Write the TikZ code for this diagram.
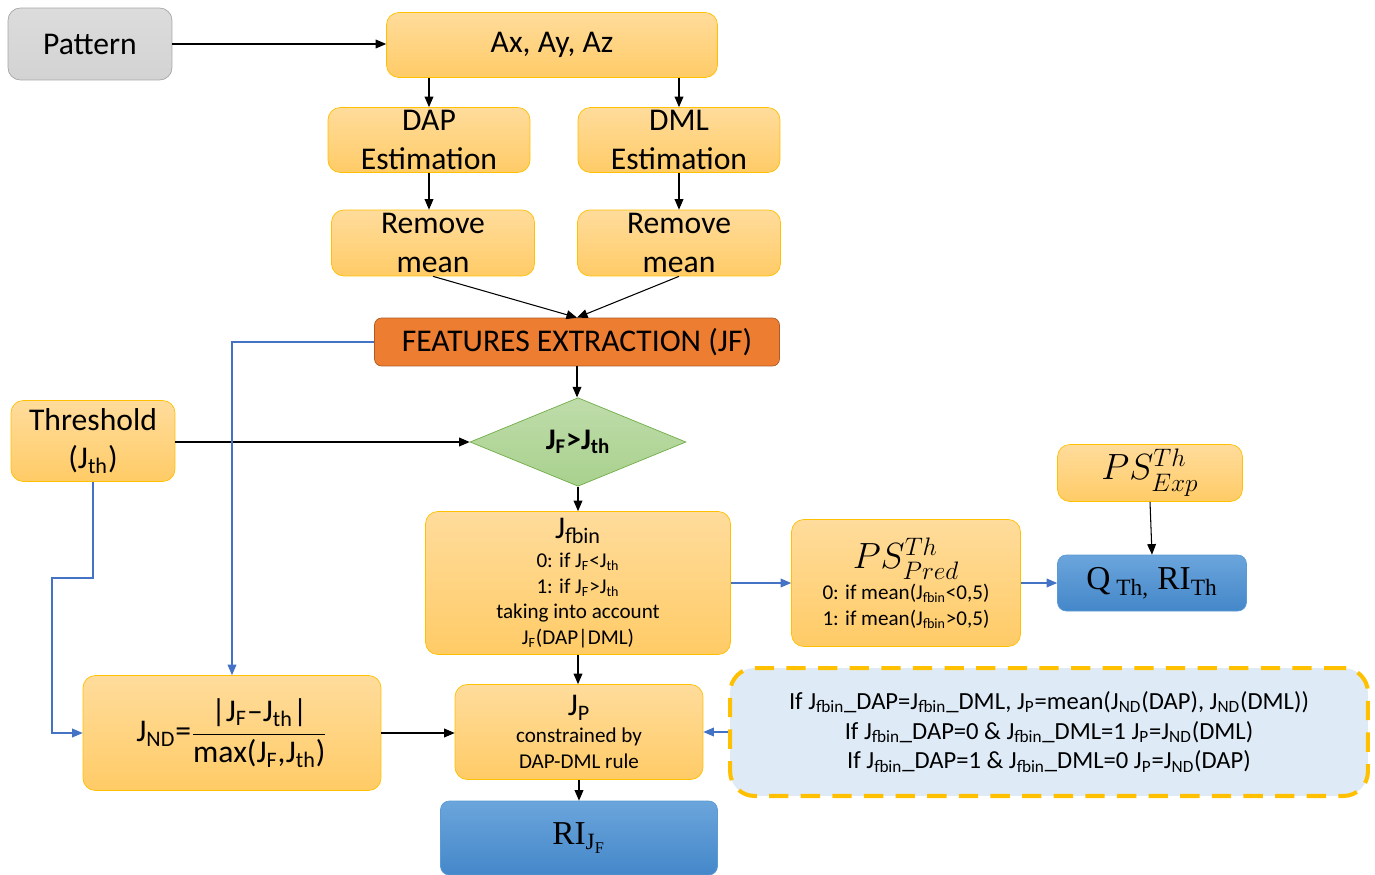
\documentclass[tikz,border=0pt]{standalone}
\usepackage{amsmath}
\usepackage{fontspec}
\setmainfont{Carlito}
\newfontfamily\timesfont{Liberation Serif}
\usetikzlibrary{shapes.geometric}
\usetikzlibrary{arrows.meta}
\definecolor{boxtop}{HTML}{FFDC9C}
\definecolor{boxbot}{HTML}{FFCB66}
\definecolor{boxline}{HTML}{FFC000}
\definecolor{greyfill}{HTML}{D3D3D3}
\definecolor{greyline}{HTML}{A6A6A6}
\definecolor{featfill}{HTML}{ED7D31}
\definecolor{featline}{HTML}{AE5A21}
\definecolor{greenfill}{HTML}{A9D18E}
\definecolor{greenline}{HTML}{70AD47}
\definecolor{bluetop}{HTML}{6BA5DC}
\definecolor{bluebot}{HTML}{4487C9}
\definecolor{blueline}{HTML}{5B9BD5}
\definecolor{linkblue}{HTML}{4472C4}
\definecolor{rulefill}{HTML}{DEEBF7}
\newcommand{\bigline}[1]{{\fontsize{18}{18}\selectfont #1}}
\begin{document}
\begin{tikzpicture}[x=0.02cm,y=-0.02cm,
    block/.style={draw=boxline,top color=boxtop,bottom color=boxbot,rounded corners=7pt,
        align=center,inner sep=1pt,font=\fontsize{18}{22}\selectfont},
    smallblock/.style={block,font=\fontsize{12}{14.5}\selectfont},
    result/.style={draw=blueline,top color=bluetop,bottom color=bluebot,rounded corners=5pt,
        align=center,font=\timesfont\fontsize{19}{22}\selectfont},
    link/.style={-{Triangle[length=6pt,width=5pt]},line width=0.6pt},
    bluelink/.style={-{Triangle[length=6pt,width=5pt]},draw=linkblue,line width=0.6pt}]
    \useasboundingbox (0,0) rectangle (1375,875);
    % top row
    \node[block,draw=greyline,top color=greyfill!80,bottom color=greyfill,minimum width=3.28cm,minimum height=1.44cm] (pattern) at (90,44) {Pattern};
    \node[block,minimum width=6.62cm,minimum height=1.30cm] (axyz) at (552,45) {Ax, Ay, Az};
    \node[block,minimum width=4.04cm,minimum height=1.30cm] (dapest) at (429,140) {DAP\\Estimation};
    \node[block,minimum width=4.04cm,minimum height=1.30cm] (dmlest) at (679,140) {DML\\Estimation};
    \node[block,minimum width=4.06cm,minimum height=1.32cm] (dapmean) at (433,243) {Remove\\mean};
    \node[block,minimum width=4.06cm,minimum height=1.32cm] (dmlmean) at (679,243) {Remove\\mean};
    \node[draw=featline,fill=featfill,rounded corners=4pt,minimum width=8.10cm,minimum height=0.96cm,
        font=\fontsize{18}{20}\selectfont] (feat) at (577,342) {FEATURES EXTRACTION (JF)};
    % threshold and test
    \node[block,minimum width=3.28cm,minimum height=1.62cm] (thr) at (93,441) {Threshold\\(J\textsubscript{th})};
    \node[diamond,draw=greenline,top color=greenfill!75,bottom color=greenfill,inner sep=0pt,
        minimum width=4.32cm,minimum height=1.74cm,font=\bfseries\fontsize{17}{18}\selectfont] (test) at (578,442) {J\textsubscript{F}>J\textsubscript{th}};
    \node[smallblock,minimum width=6.10cm,minimum height=2.86cm] (fbin) at (578,583)
        {\bigline{J\textsubscript{fbin}}\\[2pt]
        0: if J\textsubscript{F}<J\textsubscript{th}\\
        1: if J\textsubscript{F}>J\textsubscript{th}\\
        taking into account\\
        J\textsubscript{F}(DAP|DML)};
    \node[smallblock,minimum width=4.58cm,minimum height=2.54cm] (pspred) at (906,583)
        {{\fontsize{20}{20}\selectfont$PS^{Th}_{\mathstrut Pred}$}\\[-2pt]
        0: if mean(J\textsubscript{fbin}<0,5)\\
        1: if mean(J\textsubscript{fbin}>0,5)};
    \node[block,minimum width=3.70cm,minimum height=1.14cm,font=\fontsize{20}{20}\selectfont] (psexp) at (1150,473) {$PS^{Th}_{\mathstrut Exp}$};
    \node[result,minimum width=3.78cm,minimum height=1.12cm] (qth) at (1152,583) {Q\textsubscript{ Th,} RI\textsubscript{Th}};
    % bottom row
    \node[block,minimum width=5.96cm,minimum height=2.30cm] (jnd) at (232,733)
        {J\textsubscript{ND}=$\dfrac{\text{|J\textsubscript{F}--J\textsubscript{th}|}}{\text{max(J\textsubscript{F},J\textsubscript{th})}}$};
    \node[smallblock,minimum width=4.96cm,minimum height=1.90cm] (jp) at (579,732)
        {\bigline{J\textsubscript{P}}\\[1pt]
        constrained by\\
        DAP-DML rule};
    \node[draw=boxline,fill=rulefill,line width=2.3pt,dash pattern=on 11pt off 7pt,rounded corners=14pt,
        minimum width=12.76cm,minimum height=2.56cm,align=center,font=\fontsize{14}{17}\selectfont] (rule) at (1049,732)
        {If J\textsubscript{fbin}\_DAP=J\textsubscript{fbin}\_DML, J\textsubscript{P}=mean(J\textsubscript{ND}(DAP), J\textsubscript{ND}(DML))\\
        If J\textsubscript{fbin}\_DAP=0 \& J\textsubscript{fbin}\_DML=1 J\textsubscript{P}=J\textsubscript{ND}(DML)\\
        If J\textsubscript{fbin}\_DAP=1 \& J\textsubscript{fbin}\_DML=0 J\textsubscript{P}=J\textsubscript{ND}(DAP)};
    \node[result,minimum width=5.54cm,minimum height=1.48cm] (ri) at (579,838) {RI\textsubscript{J\textsubscript{F}}};
    % black arrows
    \draw[link] (pattern.east) -- (pattern.east -| axyz.west);
    \draw[link] (axyz.south -| dapest.north) -- (dapest.north);
    \draw[link] (axyz.south -| dmlest.north) -- (dmlest.north);
    \draw[link] (dapest.south) -- (dapmean.north -| dapest.south);
    \draw[link] (dmlest.south) -- (dmlmean.north);
    \draw[link] (dapmean.south) -- (feat.north);
    \draw[link] (dmlmean.south) -- (feat.north);
    \draw[link] (feat.south) -- (feat.south |- test.north);
    \draw[link] (thr.east |- test) -- (test.west);
    \draw[link] (test.south) -- (test.south |- fbin.north);
    \draw[link] (fbin.south) -- (fbin.south |- jp.north);
    \draw[link] (jnd.east) -- (jp.west |- jnd.east);
    \draw[link] (jp.south) -- (ri.north);
    \draw[link] (psexp.south) -- (qth.north);
    % blue arrows
    \draw[bluelink] (feat.west) -| (jnd.north);
    \draw[bluelink] (thr.south) -- (93,578) -- (52,578) |- (jnd.west);
    \draw[bluelink] (fbin.east) -- (pspred.west);
    \draw[bluelink] (pspred.east) -- (qth.west);
    \draw[bluelink] (rule.west) -- (jp.east |- rule.west);
\end{tikzpicture}
\end{document}
